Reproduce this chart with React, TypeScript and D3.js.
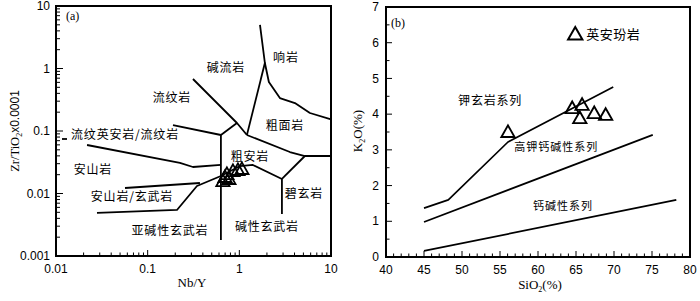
import React from 'react';
import * as d3 from 'd3';

type P = [number, number];

// ---------- Panel (a): Zr/TiO2 vs Nb/Y (Winchester & Floyd) ----------
const aXTicks = [0.01, 0.1, 1, 10];
const aXTickLabels = ['0.01', '0.1', '1', '10'];
const aYTicks = [0.001, 0.01, 0.1, 1, 10];
const aYTickLabels = ['0.001', '0.01', '0.1', '1', '10'];

const aPhonoliteBoundary: P[] = [[1.68, 4.97], [1.9, 1.225], [2.1, 0.608], [2.77, 0.337], [4.04, 0.28], [5.89, 0.194], [9.8, 0.155]];
const aComenditeRight: P[] = [[1.9, 1.225], [1.21, 0.0863]];
const aComenditeLeft: P[] = [[0.312, 0.679], [0.942, 0.1343], [1.21, 0.0863]];
const aRhyoliteBase: P[] = [[0.942, 0.1343], [0.6295, 0.0863]];
const aTrachyteBase: P[] = [[1.21, 0.0863], [3.56, 0.0461], [5.19, 0.0398], [9.8, 0.0398]];
const aRhyodaciteLine: P[] = [[0.189, 0.1247], [0.6295, 0.0863]];
const aRhyodaciteDash: P[] = [[0.01162, 0.0745], [0.01318, 0.0745]];
const aVerticalLine: P[] = [[0.6295, 0.0863], [0.6295, 0.0018]];
const aAndesiteTop: P[] = [[0.0218, 0.0597], [0.2249, 0.0308], [0.312, 0.02655], [0.6295, 0.0286]];
const aAndBasTop: P[] = [[0.0566, 0.01225], [0.3715, 0.01472]];
const aAndBasBottom: P[] = [[0.028, 0.00488], [0.2087, 0.00545], [0.345, 0.01318], [0.6295, 0.01905], [1.015, 0.0275], [1.406, 0.0286], [2.915, 0.0171]];
const aBasaniteTop: P[] = [[2.915, 0.0171], [5.19, 0.0398]];
const aBasaniteLeft: P[] = [[2.915, 0.0171], [2.915, 0.0047]];
const aBoundaries: P[][] = [
  aPhonoliteBoundary, aComenditeRight, aComenditeLeft, aRhyoliteBase, aTrachyteBase,
  aRhyodaciteLine, aRhyodaciteDash, aVerticalLine, aAndesiteTop, aAndBasTop,
  aAndBasBottom, aBasaniteTop, aBasaniteLeft,
];

const aSampleNbY = [0.662, 0.697, 0.732, 0.77, 0.852, 0.966, 1.067];
const aSampleZrTi = [0.0158, 0.0184, 0.0205, 0.0171, 0.0229, 0.0238, 0.0247];

const aFieldNames = ['碱流岩', '响岩', '流纹岩', '粗面岩', '流纹英安岩/流纹岩', '安山岩', '粗安岩', '安山岩/玄武岩', '碧玄岩', '碱性玄武岩', '亚碱性玄武岩'];
const aFieldX = [0.714, 3.22, 0.184, 3.14, 0.0566, 0.0253, 1.305, 0.0674, 5.06, 2.0, 0.175];
const aFieldY = [1.02, 1.47, 0.337, 0.12, 0.0863, 0.0238, 0.0384, 0.00879, 0.00982, 0.00291, 0.00251];

// ---------- Panel (b): K2O vs SiO2 ----------
const bXTicks = [40, 45, 50, 55, 60, 65, 70, 75, 80];
const bYTicks = [0, 1, 2, 3, 4, 5, 6, 7];

const bShoshoniteLine: P[] = [[45, 1.37], [48.2, 1.6], [56.05, 3.22], [69.9, 4.76]];
const bHighKLine: P[] = [[45, 0.98], [75.1, 3.42]];
const bCalcAlkLine: P[] = [[45, 0.17], [78.2, 1.6]];
const bBoundaries: P[][] = [bShoshoniteLine, bHighKLine, bCalcAlkLine];

const bSampleSiO2 = [56.05, 64.5, 65.8, 65.5, 67.4, 68.9];
const bSampleK2O = [3.5, 4.17, 4.26, 3.89, 4.03, 3.98];

const bSeriesNames = ['钾玄岩系列', '高钾钙碱性系列', '钙碱性系列'];
const bSeriesX = [53.7, 62.4, 63.3];
const bSeriesY = [4.37, 3.08, 1.43];

const bLegendName = '英安玢岩';
const bLegendPos: P = [64.9, 6.24];

const CJK = '"Noto Sans CJK SC", "Noto Sans", sans-serif';
const SANS = '"Liberation Sans", Arial, sans-serif';
const SERIF = '"Liberation Serif", "Times New Roman", serif';

const triPath = (s: number) => `M0,${-s * 0.55}L${s * 0.55},${s * 0.42}L${-s * 0.55},${s * 0.42}Z`;

export default function App() {
  const xA = d3.scaleLog().domain([0.01, 10]).range([56, 331]);
  const yA = d3.scaleLog().domain([0.001, 10]).range([256, 6]);
  const xB = d3.scaleLinear().domain([40, 80]).range([386, 690]);
  const yB = d3.scaleLinear().domain([0, 7]).range([257, 7]);

  const lineA = d3.line<P>().x(d => xA(d[0])).y(d => yA(d[1]));
  const lineB = d3.line<P>().x(d => xB(d[0])).y(d => yB(d[1]));

  const isDecade = (v: number) => Math.abs(Math.log10(v) - Math.round(Math.log10(v))) < 1e-6;
  const aXAll = xA.ticks();
  const aYAll = yA.ticks();
  const bXAll = d3.range(40, 80.001, 1);
  const bYAll = d3.range(0, 7.001, 0.5);

  const [ax0, ax1] = xA.range();
  const [ay0, ay1] = yA.range();
  const [bx0, bx1] = xB.range();
  const [by0, by1] = yB.range();

  return (
    <svg width={700} height={301} viewBox="0 0 700 301"
      style={{ position: 'absolute', left: 0, top: 0, background: '#fff' }}>
      <rect x={0} y={0} width={700} height={301} fill="#fff" />

      {/* ===== Panel (a) ===== */}
      <g>
        {aBoundaries.map((ln, i) => (
          <path key={i} d={lineA(ln) || ''} fill="none" stroke="#000" strokeWidth={1.8} strokeLinejoin="round" />
        ))}
        {aXAll.map((v, i) => (
          <line key={'ax' + i} x1={xA(v)} x2={xA(v)} y1={ay0} y2={ay0 - (isDecade(v) ? 6 : 3.5)} stroke="#000" strokeWidth={1} />
        ))}
        {aYAll.map((v, i) => (
          <line key={'ay' + i} x1={ax0} x2={ax0 + (isDecade(v) ? 7 : 4)} y1={yA(v)} y2={yA(v)} stroke="#000" strokeWidth={1} />
        ))}
        <rect x={ax0} y={ay1} width={ax1 - ax0} height={ay0 - ay1} fill="none" stroke="#000" strokeWidth={2} />
        {aXTicks.map((v, i) => (
          <text key={'axl' + i} x={xA(v)} y={ay0 + 17} textAnchor="middle" fontFamily={SANS} fontSize={12}>{aXTickLabels[i]}</text>
        ))}
        {aYTicks.map((v, i) => (
          <text key={'ayl' + i} x={ax0 - 6} y={yA(v)} dy="0.35em" textAnchor="end" fontFamily={SANS} fontSize={12}>{aYTickLabels[i]}</text>
        ))}
        {aSampleNbY.map((v, i) => (
          <path key={'as' + i} d={triPath(12)} transform={`translate(${xA(v)},${yA(aSampleZrTi[i])})`} fill="none" stroke="#000" strokeWidth={1.8} />
        ))}
        {aFieldNames.map((t, i) => (
          <text key={'af' + i} x={xA(aFieldX[i])} y={yA(aFieldY[i])} dy="0.36em" textAnchor="middle" fontFamily={CJK} fontSize={12} letterSpacing={0.8}>{t}</text>
        ))}
        <text x={66} y={16} dy="0.35em" fontFamily={SERIF} fontSize={12}>(a)</text>
        <text x={192} y={287} textAnchor="middle" fontFamily={SERIF} fontSize={13}>Nb/Y</text>
        <text transform={`translate(19,131) rotate(-90)`} textAnchor="middle" fontFamily={SERIF} fontSize={12.5}>
          Zr/TiO<tspan fontSize={8} dy={3}>2</tspan><tspan dy={-3} fontFamily={SANS} fontSize={12}>x0.0001</tspan>
        </text>
      </g>

      {/* ===== Panel (b) ===== */}
      <g>
        {bBoundaries.map((ln, i) => (
          <path key={i} d={lineB(ln) || ''} fill="none" stroke="#000" strokeWidth={1.7} strokeLinejoin="round" />
        ))}
        {bXAll.map((v, i) => (
          <line key={'bx' + i} x1={xB(v)} x2={xB(v)} y1={by0} y2={by0 - (v % 5 === 0 ? 6 : 3.5)} stroke="#000" strokeWidth={1} />
        ))}
        {bYAll.map((v, i) => (
          <line key={'by' + i} x1={bx0} x2={bx0 + (v % 1 === 0 ? 6 : 3.5)} y1={yB(v)} y2={yB(v)} stroke="#000" strokeWidth={1} />
        ))}
        <rect x={bx0} y={by1} width={bx1 - bx0} height={by0 - by1} fill="none" stroke="#000" strokeWidth={2} />
        {bXTicks.map((v, i) => (
          <text key={'bxl' + i} x={xB(v)} y={by0 + 17} textAnchor="middle" fontFamily={SANS} fontSize={12}>{String(v)}</text>
        ))}
        {bYTicks.map((v, i) => (
          <text key={'byl' + i} x={bx0 - 7} y={yB(v)} dy="0.35em" textAnchor="end" fontFamily={SANS} fontSize={12}>{String(v)}</text>
        ))}
        {bSampleSiO2.map((v, i) => (
          <path key={'bs' + i} d={triPath(12)} transform={`translate(${xB(v)},${yB(bSampleK2O[i])})`} fill="none" stroke="#000" strokeWidth={1.9} />
        ))}
        {bSeriesNames.map((t, i) => (
          <text key={'bn' + i} x={xB(bSeriesX[i])} y={yB(bSeriesY[i])} dy="0.36em" textAnchor="middle" fontFamily={CJK}
            fontSize={i === 0 ? 12 : 11} letterSpacing={i === 0 ? 0.8 : 1}>{t}</text>
        ))}
        <path d={triPath(13)} transform={`translate(${xB(bLegendPos[0])},${yB(bLegendPos[1])})`} fill="none" stroke="#000" strokeWidth={2} />
        <text x={xB(bLegendPos[0]) + 11} y={yB(bLegendPos[1])} dy="0.36em" fontFamily={CJK} fontSize={13} letterSpacing={0.5}>{bLegendName}</text>
        <text x={391} y={23} dy="0.35em" fontFamily={SERIF} fontSize={12}>(b)</text>
        <text x={540} y={289} textAnchor="middle" fontFamily={SERIF} fontSize={13}>
          SiO<tspan fontSize={8} dy={3}>2</tspan><tspan dy={-3}>(%)</tspan>
        </text>
        <text transform={`translate(362,131) rotate(-90)`} textAnchor="middle" fontFamily={SERIF} fontSize={13}>
          K<tspan fontSize={8} dy={3}>2</tspan><tspan dy={-3}>O(%)</tspan>
        </text>
      </g>
    </svg>
  );
}
